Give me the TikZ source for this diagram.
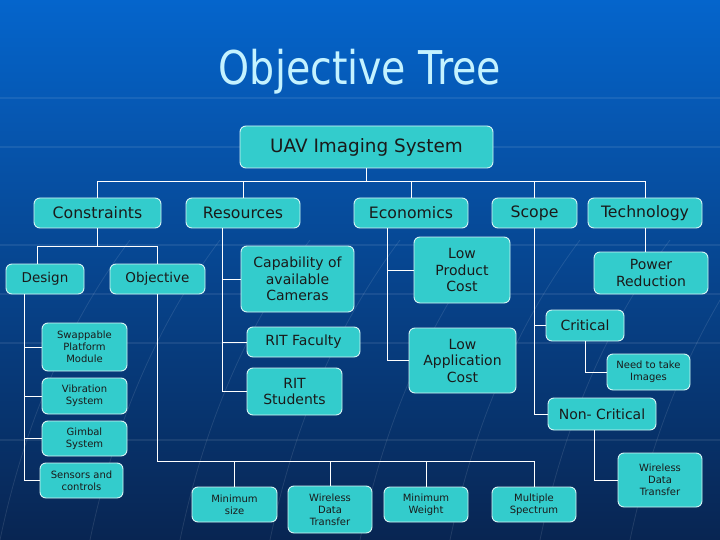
\documentclass[tikz,border=0pt]{standalone}
\usepackage{fontspec}
\setmainfont{DejaVu Sans}
\newfontfamily\titlefont[FakeStretch=0.85]{DejaVu Sans}
\usetikzlibrary{positioning,calc}
\definecolor{bgtop}{HTML}{0565CC}
\definecolor{bgmid}{HTML}{0A4C98}
\definecolor{bgbot}{HTML}{082552}
\definecolor{boxcyan}{HTML}{33CCCC}
\definecolor{titlecyan}{HTML}{C4F2FF}
\definecolor{boxtext}{HTML}{1A1A1A}
\tikzset{
  box/.style={draw=white!80!boxcyan, fill=boxcyan, rounded corners=6pt, line width=0.9pt,
    text=boxtext, align=center, inner sep=0pt},
  txthead/.style={font=\fontsize{15.7}{18}\selectfont},
  txtmid/.style={font=\fontsize{14}{16.5}\selectfont},
  txtsml/.style={font=\fontsize{10}{12}\selectfont},
  link/.style={draw=white, line width=0.8pt},
}

\begin{document}
\begin{tikzpicture}[x=1pt, y=-1pt]
\useasboundingbox (0,0) rectangle (720,540);
% background
\shade[top color=bgtop, middle color=bgmid, bottom color=bgbot] (0,0) rectangle (720,540);
\foreach \yy in {98,147,245,294,343,440}{
  \draw[white, opacity=0.08, line width=2pt] (0,\yy) -- (720,\yy);}
\foreach \xx in {0,90,180,270,360,450,540,630}{
  \draw[white, opacity=0.10, line width=0.8pt] (\xx,540) .. controls ($(\xx,540)+(25,-120)$) and ($(\xx,540)+(70,-220)$) .. ($(\xx,540)+(130,-300)$);}
% title
\node[text=titlecyan, font=\titlefont\fontsize{46.5}{52}\selectfont, anchor=base] (title) at (360,85) {Objective Tree};
% level 0 and 1
\node[box, minimum width=253, minimum height=42, font=\fontsize{18.4}{22}\selectfont] (uav) at (366.5,147) {UAV Imaging System};
\node[box, txthead, minimum width=127, minimum height=30] (cons) at (97.5,213) {Constraints};
\node[box, txthead, minimum width=114, minimum height=30] (res) at (243,213) {Resources};
\node[box, txthead, minimum width=114, minimum height=30] (econ) at (411,213) {Economics};
\node[box, txthead, minimum width=85, minimum height=30] (scope) at (534.5,213) {Scope};
\node[box, txthead, minimum width=114, minimum height=30] (tech) at (645,213) {Technology};
% constraints branch
\node[box, font=\fontsize{13.5}{16}\selectfont, minimum width=78, minimum height=30] (design) at (45,279) {Design};
\node[box, font=\fontsize{13.5}{16}\selectfont, minimum width=95, minimum height=30] (obj) at (157.5,279) {Objective};
\node[box, txtsml, minimum width=85, minimum height=48] (swap) at (84.5,347) {Swappable\\Platform\\Module};
\node[box, txtsml, minimum width=85, minimum height=36] (vib) at (84.5,396) {Vibration\\System};
\node[box, txtsml, minimum width=85, minimum height=35] (gimbal) at (84.5,438.5) {Gimbal\\System};
\node[box, txtsml, minimum width=83, minimum height=35] (sensors) at (81.5,480.5) {Sensors and\\controls};
\node[box, txtsml, minimum width=85, minimum height=35] (minsize) at (234.5,504.5) {Minimum\\size};
\node[box, txtsml, minimum width=84, minimum height=47] (wdt) at (330,509.5) {Wireless\\Data\\Transfer};
\node[box, txtsml, minimum width=84, minimum height=35] (minwt) at (426,504.5) {Minimum\\Weight};
\node[box, txtsml, minimum width=84, minimum height=35] (mspec) at (534,504.5) {Multiple\\Spectrum};
% resources branch
\node[box, txtmid, minimum width=113, minimum height=66] (cap) at (297.5,279) {Capability of\\available\\Cameras};
\node[box, txtmid, minimum width=113, minimum height=30] (fac) at (303.5,342) {RIT Faculty};
\node[box, txtmid, minimum width=95, minimum height=47] (stud) at (294.5,391.5) {RIT\\Students};
% economics branch
\node[box, txtmid, minimum width=96, minimum height=66] (lpc) at (462,270) {Low\\Product\\Cost};
\node[box, txtmid, minimum width=107, minimum height=65] (lac) at (462.5,360.5) {Low\\Application\\Cost};
% scope branch
\node[box, txtmid, minimum width=78, minimum height=31] (crit) at (585,325.5) {Critical};
\node[box, txtsml, minimum width=83, minimum height=36] (need) at (648.5,372) {Need to take\\Images};
\node[box, txtmid, minimum width=108, minimum height=32] (noncrit) at (602,414) {Non- Critical};
\node[box, txtsml, minimum width=84, minimum height=54] (wdtb) at (660,480) {Wireless\\Data\\Transfer};
% technology branch
\node[box, txtmid, minimum width=114, minimum height=42] (power) at (651,273) {Power\\Reduction};
% connectors
\coordinate (bartop) at (0,181);
\coordinate (barcons) at (0,246);
\coordinate (barobj) at (0,461);
\coordinate (dcol) at (24,294);
\coordinate (rcol) at (222,228);
\coordinate (ecol) at (387,228);
\draw[link] (uav.south) -- (uav.south |- bartop);
\draw[link] (cons.north) |- (bartop -| tech.north) -- (tech.north);
\foreach \n in {res,econ,scope}{
  \draw[link] (\n.north) -- (\n.north |- bartop);}
\draw[link] (cons.south) -- (cons.south |- barcons);
\draw[link] ([xshift=-8]design.north) |- (barcons -| obj.north) -- (obj.north);
\draw[link] (dcol) |- (sensors.west);
\foreach \n in {swap,vib,gimbal}{
  \draw[link] (\n.west) -- (\n.west -| dcol);}
\draw[link] (obj.south) |- (barobj -| mspec.north) -- (mspec.north);
\foreach \n in {minsize,wdt,minwt}{
  \draw[link] (\n.north) -- (\n.north |- barobj);}
\draw[link] (rcol) |- (stud.west);
\foreach \n in {cap,fac}{
  \draw[link] (\n.west) -- (\n.west -| rcol);}
\draw[link] (ecol) |- (lac.west);
\draw[link] (lpc.west) -- (lpc.west -| ecol);
\draw[link] (scope.south) |- (noncrit.west);
\draw[link] (crit.west) -- (crit.west -| scope.south);
\draw[link] (crit.south) |- (need.west);
\draw[link] ([xshift=-8]noncrit.south) |- (wdtb.west);
\draw[link] (tech.south) -- (tech.south |- power.north);
\end{tikzpicture}
\end{document}
